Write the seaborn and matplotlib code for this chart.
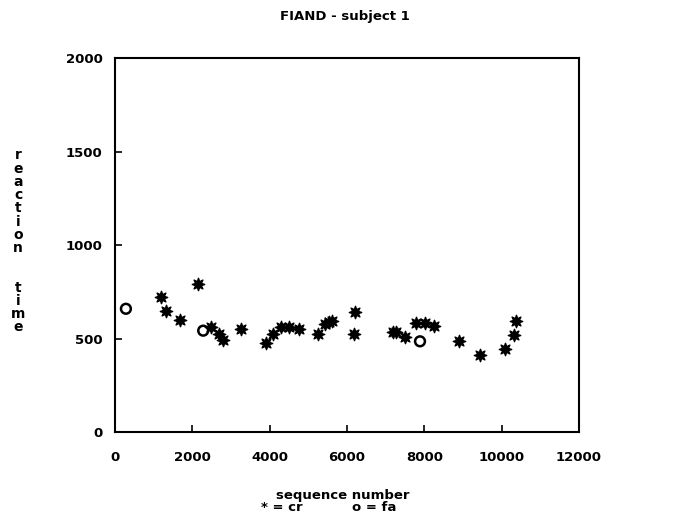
import matplotlib
matplotlib.use("Agg")
import matplotlib.pyplot as plt
import seaborn as sns
import pandas as pd

# correct rejections (cr)
cr_seq = [1180, 1330, 1670, 2140, 2490, 2700, 2800, 3260, 3910, 4080, 4300, 4490, 4770,
          5260, 5420, 5530, 5600, 6220, 6180, 7200, 7280, 7490, 7780, 8030, 8250,
          8910, 9440, 10080, 10310, 10370]
cr_rt = [721, 649, 600, 789, 564, 524, 492, 550, 477, 524, 560, 560, 550,
         522, 575, 588, 595, 642, 522, 533, 533, 509, 582, 582, 569,
         485, 413, 445, 518, 591]
# false alarms (fa)
fa_seq = [280, 2280, 7890]
fa_rt = [659, 542, 485]

xticks = [0, 2000, 4000, 6000, 8000, 10000, 12000]
yticks = [0, 500, 1000, 1500, 2000]

cr = pd.DataFrame({"seq": cr_seq, "rt": cr_rt})
fa = pd.DataFrame({"seq": fa_seq, "rt": fa_rt})

sns.set_theme(style="white")
plt.rcParams["font.family"] = ["DejaVu Sans"]
plt.rcParams["font.weight"] = "bold"
plt.rcParams["text.color"] = "black"
plt.rcParams["xtick.color"] = "black"
plt.rcParams["ytick.color"] = "black"

fig = plt.figure(figsize=(6.77, 5.18), dpi=100)
ax = fig.add_axes([0.170, 0.166, 0.685, 0.722])

sns.scatterplot(data=cr, x="seq", y="rt", ax=ax, marker=(8, 1, 0), s=80,
                color="black", edgecolor="black", linewidth=1.0, legend=False)
sns.scatterplot(data=fa, x="seq", y="rt", ax=ax, marker="o", s=50,
                facecolors="none", edgecolor="black", linewidth=1.8, legend=False)

ax.set_xlim(0, 12000)
ax.set_ylim(0, 2000)
ax.set_xticks(xticks)
ax.set_yticks(yticks)
ax.set_xticklabels([str(t) for t in xticks], fontsize=9.5, fontweight="bold")
ax.set_yticklabels([str(t) for t in yticks], fontsize=9.5, fontweight="bold")
ax.tick_params(axis="both", direction="in", length=5, width=1.2, colors="black",
               bottom=True, left=True, top=False, right=False)
ax.tick_params(axis="x", pad=14)
ax.tick_params(axis="y", pad=9)
for s in ax.spines.values():
    s.set_visible(True)
    s.set_color("black")
    s.set_linewidth(1.5)
ax.set_xlabel("")
ax.set_ylabel("")
ax.grid(False)

fig.text(0.51, 0.968, "FIAND - subject 1", ha="center", va="center",
         fontsize=9.5, fontweight="bold", color="black")
fig.text(0.507, 0.044, "sequence number", ha="center", va="center",
         fontsize=9.5, fontweight="bold", color="black")
fig.text(0.385, 0.020, "* = cr", ha="left", va="center", fontsize=9.5,
         fontweight="bold", color="black")
fig.text(0.52, 0.020, "o = fa", ha="left", va="center", fontsize=9.5,
         fontweight="bold", color="black")

ylab = "\n".join(list("reaction") + ["", ""] + list("time"))
fig.text(0.027, 0.534, ylab, ha="center", va="center", fontsize=10,
         fontweight="bold", linespacing=0.93, color="black")

fig.savefig("out.png", dpi=100)
